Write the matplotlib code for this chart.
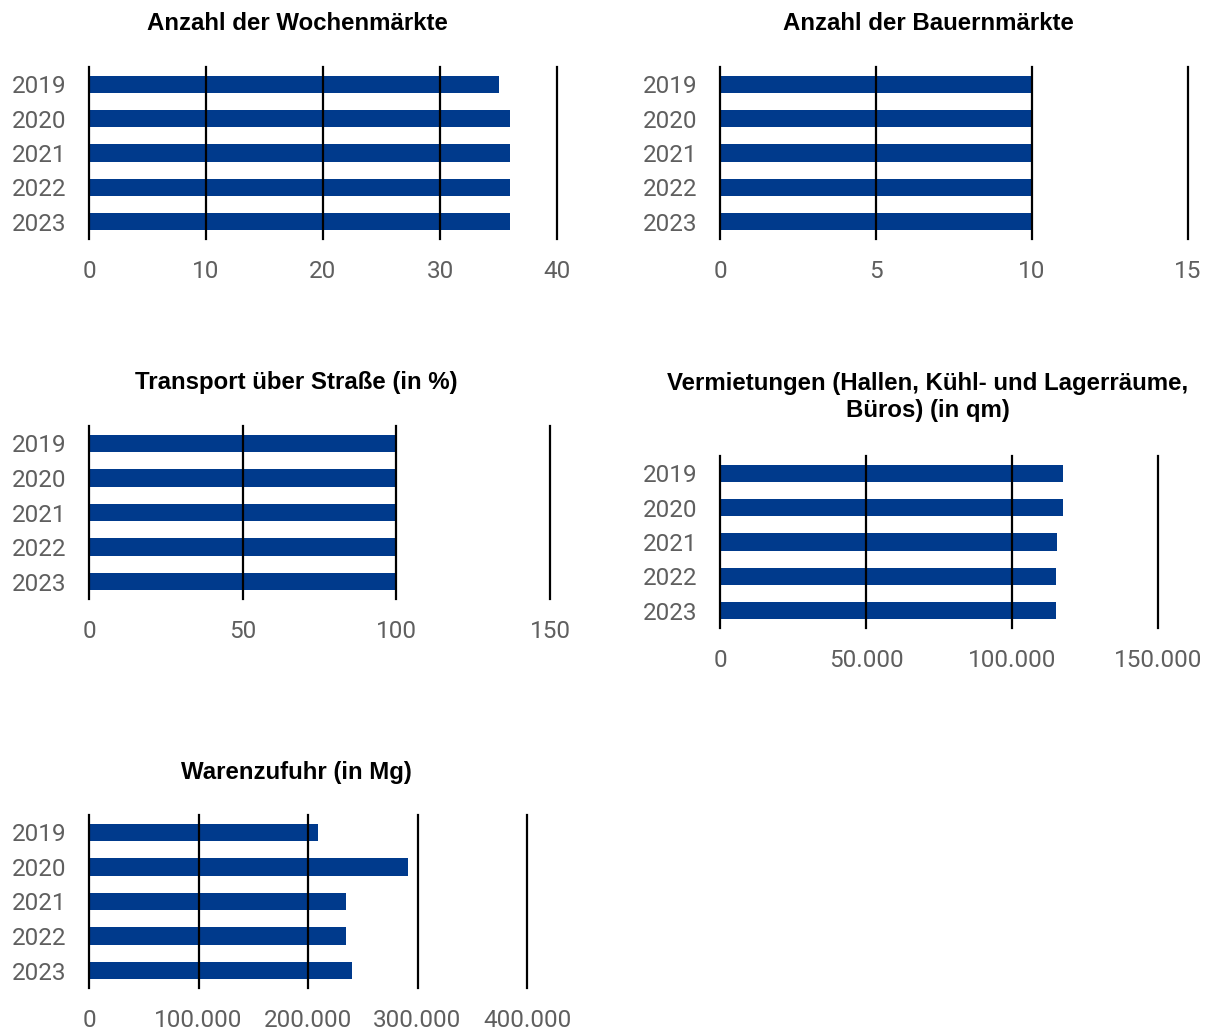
import matplotlib
matplotlib.use("Agg")
import matplotlib.pyplot as plt
from matplotlib.ticker import FuncFormatter

plt.rcParams['font.family'] = ['Roboto', 'DejaVu Sans']

# Daten
jahre = ['2019', '2020', '2021', '2022', '2023']

wochenmaerkte = [35, 36, 36, 36, 36]
bauernmaerkte = [10, 10, 10, 10, 10]
transport_strasse = [100, 100, 100, 100, 100]
vermietungen = [117400, 117400, 115400, 115000, 115100]
warenzufuhr = [208900, 291200, 234700, 234300, 239900]

titel = [
    'Anzahl der Wochenmärkte',
    'Anzahl der Bauernmärkte',
    'Transport über Straße (in %)',
    'Vermietungen (Hallen, Kühl- und Lagerräume,\nBüros) (in qm)',
    'Warenzufuhr (in Mg)',
]
xticks = [
    [0, 10, 20, 30, 40],
    [0, 5, 10, 15],
    [0, 50, 100, 150],
    [0, 50000, 100000, 150000],
    [0, 100000, 200000, 300000, 400000],
]

BLAU = '#003A8C'
GRAU = '#5f5f5f'
W, H = 1205, 1030


def tausender(x, pos):
    return f'{int(x):,}'.replace(',', '.')


fig = plt.figure(figsize=(W / 100, H / 100), dpi=100)

# Layout in Pixeln: (links, rechts, oben, unten, Titelmitte x, Titel y)
layout = [
    (89, 557, 67, 239, 297, 23),
    (720, 1188, 67, 239, 928, 23),
    (89, 550, 426, 599, 296, 383),
    (720, 1158, 456, 628, 928, 397),
    (89, 527, 815, 988, 296, 772),
]
daten = [wochenmaerkte, bauernmaerkte, transport_strasse, vermietungen, warenzufuhr]

for i, werte in enumerate(daten):
    l, r, t, b, tx, ty = layout[i]
    ax = fig.add_axes([l / W, 1 - b / H, (r - l) / W, (b - t) / H])
    y = range(len(jahre))
    ax.barh(y, werte, height=0.5, color=BLAU, edgecolor='none', zorder=1)
    ax.set_xlim(xticks[i][0], xticks[i][-1])
    ax.set_ylim(4.5, -0.5)
    ax.set_xticks(xticks[i])
    ax.set_yticks(list(y))
    ax.set_yticklabels(jahre)
    ax.xaxis.set_major_formatter(FuncFormatter(tausender))
    ax.grid(True, axis='x', color='black', linewidth=1.6)
    for gl in ax.get_xgridlines():
        gl.set_clip_on(False)
    ax.set_axisbelow(False)
    for s in ax.spines.values():
        s.set_visible(False)
    ax.tick_params(axis='both', length=0, labelsize=17.5, labelcolor=GRAU)
    ax.tick_params(axis='x', pad=15)
    ax.tick_params(axis='y', pad=16)
    fig.text(tx / W, 1 - ty / H, titel[i], ha='center', va='center',
             fontsize=17.3, fontweight='bold', family=['Liberation Sans', 'DejaVu Sans'],
             linespacing=1.17)

plt.savefig('out.png', dpi=100)
